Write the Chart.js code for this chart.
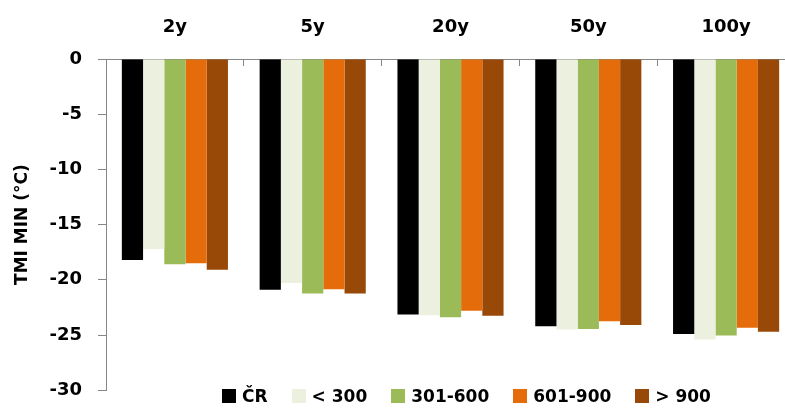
<!DOCTYPE html>
<html>
<head>
<meta charset="utf-8">
<script src="https://cdn.jsdelivr.net/npm/chart.js@4"></script>
<style>
  body { margin: 0; overflow: hidden; background: #fff; }
  #wrap { position: relative; width: 800px; height: 417px; }
  #legend { position: absolute; left: 222px; top: 386px; display: flex; align-items: center;
            font: bold 17px "DejaVu Sans", sans-serif; color: #000; }
  #legend .item { display: flex; align-items: center; margin-right: 24px; }
  #legend .box { width: 14px; height: 14px; margin-right: 6px; }
</style>
</head>
<body>
<div id="wrap">
  <canvas id="myChart"></canvas>
  <div id="legend"></div>
</div>
<script>
const periods = ['2y', '5y', '20y', '50y', '100y'];
const groups = ['ČR', '< 300', '301-600', '601-900', '> 900'];
const colors = ['#000000', '#EBF1DE', '#9BBB59', '#E46C0A', '#984807'];

const valCR = [-18.2, -20.9, -23.15, -24.2, -24.9];
const val300 = [-17.2, -20.3, -23.2, -24.5, -25.4];
const val600 = [-18.6, -21.25, -23.4, -24.45, -25.05];
const val900 = [-18.5, -20.85, -22.8, -23.75, -24.35];
const valOver = [-19.1, -21.25, -23.25, -24.1, -24.7];
const allValues = [valCR, val300, val600, val900, valOver];

const yTicks = [0, -5, -10, -15, -20, -25, -30];

const ctx = document.getElementById('myChart').getContext('2d');
const axisGray = '#868686';
const myChart = new Chart(ctx, {
    type: 'bar',
    data: {
        labels: periods,
        datasets: groups.map((g, i) => ({
            label: g,
            data: allValues[i],
            backgroundColor: colors[i],
            borderWidth: 0,
            categoryPercentage: 0.77,
            barPercentage: 1
        }))
    },
    options: {
        responsive: true,
        maintainAspectRatio: false,
        animation: false,
        layout: { padding: { left: 0, top: 0, right: 5, bottom: 9 }, autoPadding: false },
        plugins: { legend: { display: false }, tooltip: { enabled: false } },
        scales: {
            x: {
                position: 'top',
                offset: true,
                grid: { offset: true, drawOnChartArea: false, tickLength: -7, color: axisGray },
                border: { color: axisGray },
                ticks: { color: '#000', padding: 28, font: { family: 'DejaVu Sans', size: 18, weight: 'bold' } },
                afterFit: s => { s.height = 59; }
            },
            y: {
                min: -30,
                max: 0,
                afterBuildTicks: s => { s.ticks = yTicks.map(v => ({ value: v })); },
                grid: { drawOnChartArea: false, tickLength: 8, color: axisGray },
                border: { color: axisGray },
                ticks: { color: '#000', padding: 16, font: { family: 'DejaVu Sans', size: 18, weight: 'bold' } },
                title: {
                    display: true,
                    text: 'TMI MIN (°C)',
                    color: '#000',
                    padding: { top: 12, bottom: 0 },
                    font: { family: 'DejaVu Sans', size: 17, weight: 'bold' }
                },
                afterFit: s => { s.width = 106; }
            }
        }
    }
});

const legendEl = document.getElementById('legend');
myChart.data.datasets.forEach(ds => {
    const item = document.createElement('div');
    item.className = 'item';
    const box = document.createElement('span');
    box.className = 'box';
    box.style.background = ds.backgroundColor;
    const txt = document.createElement('span');
    txt.textContent = ds.label;
    item.appendChild(box);
    item.appendChild(txt);
    legendEl.appendChild(item);
});
</script>
</body>
</html>
